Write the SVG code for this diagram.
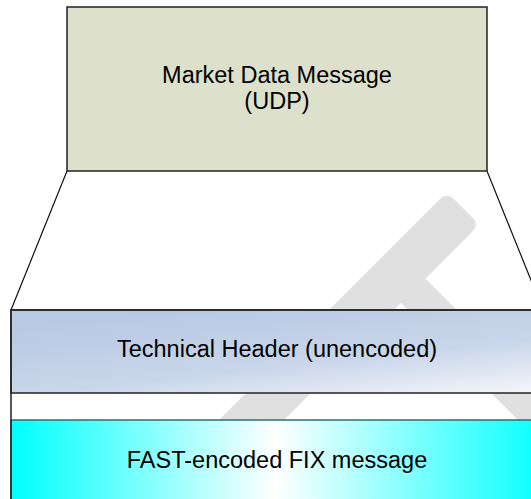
<svg xmlns="http://www.w3.org/2000/svg" width="531" height="499" viewBox="0 0 531 499">
  <style>
    .lbl { font-family: "Liberation Sans", Arial, sans-serif; font-size: 23.5px; fill: #000; text-anchor: middle; }
    .box { stroke: #222; stroke-width: 1.5; }
    .conn { stroke: #111; stroke-width: 1.2; fill: none; }
  </style>
  <defs>
    <linearGradient id="hdrGrad" x1="0.3" y1="0" x2="1" y2="1">
      <stop offset="0" stop-color="#b8c9e3"/>
      <stop offset="0.55" stop-color="#c9d6ea"/>
      <stop offset="1" stop-color="#f6f7fb"/>
    </linearGradient>
    <linearGradient id="fastGrad" x1="0" y1="0" x2="1" y2="0">
      <stop offset="0" stop-color="#00ffff"/>
      <stop offset="0.49" stop-color="#ffffff"/>
      <stop offset="1" stop-color="#00ffff"/>
    </linearGradient>
  </defs>

  <rect width="531" height="499" fill="#ffffff"/>

  <!-- watermark -->
  <path d="M 440 199 Q 447 192 454 199 L 472.5 217.5 Q 479.5 224.5 472.5 231.5 L 425.5 278.5 L 623.5 476.5 L 599 501 L 401 303 L 202 502 L 169.5 469.5 Z" fill="#e0e0e0"/>

  <g id="connectors">
    <line class="conn" x1="67" y1="171" x2="11" y2="310"/>
    <line class="conn" x1="487" y1="171" x2="543" y2="310"/>
  </g>

  <g id="market-data-message">
    <rect class="box" x="67" y="7" width="420" height="164" fill="#dde1cb"/>
    <text class="lbl" x="277" y="83">Market Data Message</text>
    <text class="lbl" x="277" y="109">(UDP)</text>
  </g>

  <g id="technical-header">
    <rect class="box" x="11" y="310" width="540" height="83" fill="url(#hdrGrad)"/>
    <text class="lbl" x="277" y="357">Technical Header (unencoded)</text>
  </g>

  <g id="fast-message">
    <rect x="11" y="420" width="540" height="90" fill="url(#fastGrad)" stroke="#2f6f6f" stroke-width="1.5"/>
    <text class="lbl" x="277" y="468">FAST-encoded FIX message</text>
  </g>

  <rect class="box" x="11" y="310" width="540" height="200" fill="none"/>
</svg>
